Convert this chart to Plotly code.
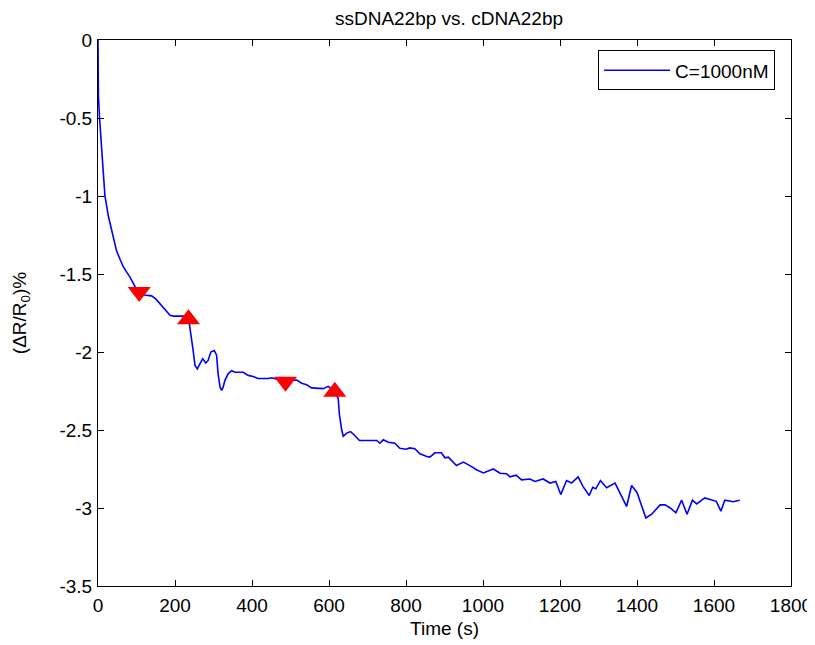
import plotly.graph_objects as go

# Curve (time in s, signal in %)
time_s = [0, 1, 4, 7, 12, 18, 27, 38, 48, 58, 66, 75, 83, 96, 107, 120, 131, 139, 150, 161, 175, 187, 196, 210, 221, 235,
          239, 246, 252, 258, 265, 272, 280, 286, 293, 302, 308, 312, 317, 321, 325, 330, 338, 347, 356, 377, 390, 403,
          416, 442, 451, 470, 487, 500, 516, 529, 542, 555, 585, 598, 615, 624, 627, 633, 637, 646, 656, 667, 679,
          724, 732, 741, 754, 771, 784, 800, 810, 823, 836, 854, 862, 875, 892, 901, 910, 931, 949, 966, 983, 1001,
          1027, 1044, 1061, 1070, 1086, 1100, 1122, 1135, 1156, 1174, 1189, 1202, 1217, 1230, 1247, 1260, 1276,
          1285, 1293, 1305, 1321, 1343, 1360, 1373, 1386, 1400, 1412, 1423, 1438, 1460, 1473, 1486, 1501, 1516,
          1530, 1544, 1555, 1576, 1606, 1618, 1628, 1650, 1667]
signal = [0.0, -0.36, -0.5, -0.62, -0.83, -1.0, -1.13, -1.24, -1.35, -1.41, -1.455, -1.49, -1.52, -1.58, -1.625, -1.635,
          -1.637, -1.64, -1.66, -1.69, -1.73, -1.765, -1.77, -1.77, -1.77, -1.78,
          -1.84, -1.97, -2.086, -2.108, -2.075, -2.043, -2.07, -2.054, -2.0, -1.99, -2.02, -2.14, -2.225, -2.246,
          -2.225, -2.18, -2.14, -2.12, -2.13, -2.13, -2.15, -2.157, -2.17, -2.17, -2.165, -2.18, -2.19, -2.18, -2.18,
          -2.2, -2.21, -2.23, -2.235, -2.22, -2.25, -2.30, -2.40, -2.50, -2.54, -2.52, -2.51, -2.535, -2.567,
          -2.567, -2.585, -2.563, -2.578, -2.585, -2.617, -2.623, -2.615, -2.62, -2.653, -2.67, -2.674, -2.646,
          -2.646, -2.678, -2.674, -2.728, -2.706, -2.728, -2.755, -2.775, -2.75, -2.777, -2.78, -2.8, -2.79, -2.82,
          -2.814, -2.83, -2.814, -2.84, -2.83, -2.914, -2.824, -2.84, -2.8, -2.863, -2.92, -2.867, -2.877, -2.824,
          -2.87, -2.84, -2.93, -2.99, -2.856, -2.9, -2.985, -3.064, -3.04, -2.98, -2.98, -3.0, -3.03, -2.95, -3.04,
          -2.95, -2.974, -2.935, -2.957, -3.02, -2.95, -2.96, -2.95]

# Event markers
down_times = [107, 487]
down_values = [-1.615, -2.19]
up_times = [235, 615]
up_values = [-1.79, -2.255]

x_ticks = [0, 200, 400, 600, 800, 1000, 1200, 1400, 1600, 1800]
x_ticklabels = ["0", "200", "400", "600", "800", "1000", "1200", "1400", "1600", "1800"]
y_ticks = [0, -0.5, -1, -1.5, -2, -2.5, -3, -3.5]
y_ticklabels = ["0", "-0.5", "-1", "-1.5", "-2", "-2.5", "-3", "-3.5"]

FONT = "Liberation Sans, Arial, Helvetica, sans-serif"
FS = 19

fig = go.Figure()
fig.add_trace(go.Scatter(x=time_s, y=signal, mode="lines", name="C=1000nM",
                         line=dict(color="#0000FF", width=1.6)))
fig.add_trace(go.Scatter(x=down_times, y=down_values, mode="markers", showlegend=False,
                         marker=dict(symbol="triangle-down", size=20, color="#FF0000", line=dict(width=0))))
fig.add_trace(go.Scatter(x=up_times, y=up_values, mode="markers", showlegend=False,
                         marker=dict(symbol="triangle-up", size=20, color="#FF0000", line=dict(width=0))))

axis_common = dict(showline=True, linecolor="black", linewidth=1, mirror="allticks",
                   ticks="inside", ticklen=6, tickcolor="black", tickwidth=1,
                   showgrid=False, zeroline=False, automargin=False,
                   tickfont=dict(family=FONT, size=FS, color="black"))

# The page body adds an 8px offset, so margins are shifted to compensate.
fig.update_layout(
    width=815, height=645,
    paper_bgcolor="white", plot_bgcolor="white",
    margin=dict(l=90, r=32, t=32, b=67),
    title=dict(text="ssDNA22bp vs. cDNA22bp", x=441 / 815, xanchor="center", y=1 - 10 / 645, yanchor="middle",
               font=dict(family=FONT, size=FS, color="black")),
    xaxis=dict(range=[0, 1800], tickvals=x_ticks, ticktext=x_ticklabels, ticklabelstandoff=2,
               title=dict(text="Time (s)", font=dict(family=FONT, size=FS, color="black"), standoff=6),
               **axis_common),
    yaxis=dict(range=[-3.5, 0], tickvals=y_ticks, ticktext=y_ticklabels, ticklabelstandoff=1,
               title=dict(text="(ΔR/R<sub>0</sub>)%", font=dict(family=FONT, size=FS, color="black"), standoff=27),
               **axis_common),
    legend=dict(x=0.977, y=0.981, xanchor="right", yanchor="top",
                bgcolor="white", bordercolor="black", borderwidth=1,
                font=dict(family=FONT, size=FS, color="black"), itemwidth=66),
)

fig.write_html("out.html")
